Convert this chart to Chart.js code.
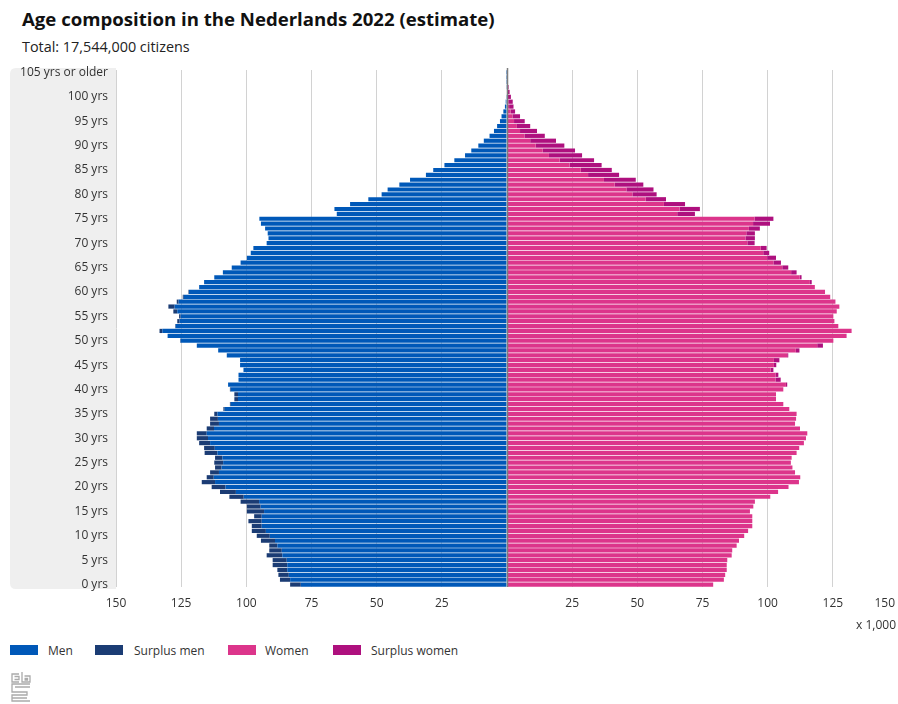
<!DOCTYPE html>
<html>
<head>
<meta charset="utf-8">
<script src="https://cdn.jsdelivr.net/npm/chart.js@4.4.1/dist/chart.umd.min.js"></script>
<style>
  body { margin: 0; width: 898px; height: 704px; background: #fff; font-family: "Open Sans", sans-serif; color: #222; position: relative; overflow: hidden; }
  h1 { position: absolute; left: 22px; top: 6px; margin: 0; font-size: 18.6px; font-weight: 700; color: #111; }
  .sub { position: absolute; left: 22px; top: 37px; font-size: 14.4px; }
  #wrap { position: absolute; left: 0; top: 61px; width: 898px; height: 560px; }
  .unit { position: absolute; right: 2px; top: 616px; font-size: 12px; color: #333; }
  .legend { position: absolute; left: 0; top: 642px; font-size: 12px; color: #333; }
  .legend i { position: absolute; top: 3px; width: 28px; height: 10px; }
  .legend span { position: absolute; top: 0; white-space: nowrap; }
  .logo { position: absolute; left: 10px; top: 671px; }
</style>
</head>
<body>
<h1>Age composition in the Nederlands 2022 (estimate)</h1>
<div class="sub">Total: 17,544,000 citizens</div>
<div id="wrap"><canvas id="chart"></canvas></div>
<div class="unit">x 1,000</div>
<div class="legend">
  <i style="left:10px;background:#0058b8"></i><span style="left:48px">Men</span>
  <i style="left:95px;background:#1b3c74"></i><span style="left:134px">Surplus men</span>
  <i style="left:228px;background:#dc358b"></i><span style="left:265px">Women</span>
  <i style="left:333px;background:#ae107e"></i><span style="left:371px">Surplus women</span>
</div>
<svg class="logo" width="22" height="32" viewBox="0 0 22 32" fill="none" stroke="#aaa" stroke-width="1.3">
  <path d="M9 3H2v8h7"/><path d="M4.5 5.5h4.5v3H4.5"/>
  <path d="M12 1v10h8V5h-5.5"/><path d="M14.5 7.5h3v1.5h-3"/>
  <path d="M20 13H2v8h15v3H2v6h18"/><path d="M5 16h15M2 27h15"/>
</svg>
<script>
// ages 0 .. 105 (last one = 105 or older), values x 1,000
const ages = Array.from({ length: 106 }, (_, i) => i);

const men = [
  83.2, 87.1, 87.7, 88.1, 89.9, 89.9, 92.2, 91.2, 91.2, 94.4,
  96.0, 97.9, 97.9, 99.2, 97.0, 99.8, 99.8, 102.2, 106.5, 110.1,
  113.3, 117.1, 115.2, 113.9, 112.0, 112.3, 112.0, 116.0, 116.2, 118.1,
  119.0, 119.0, 115.2, 113.9, 113.9, 112.3, 108.8, 106.3, 104.6, 104.6,
  106.3, 107.0, 103.0, 103.0, 101.1, 102.4, 102.4, 107.5, 110.8, 119.0,
  125.4, 130.2, 133.3, 127.3, 126.5, 125.8, 128.0, 129.9, 126.7, 124.4,
  122.2, 118.1, 116.2, 112.3, 109.0, 105.6, 102.2, 99.8, 98.3, 97.3,
  92.2, 91.5, 91.8, 92.8, 94.4, 95.0, 65.3, 66.2, 60.2, 53.2,
  48.1, 45.8, 41.3, 37.2, 31.1, 28.3, 24.0, 20.2, 16.1, 13.7,
  11.0, 8.9, 6.7, 5.0, 3.8, 2.7, 2.1, 1.4, 0.8, 0.5,
  0.3, 0.2, 0.1, 0.05, 0.02, 0.01
];

const women = [
  79.1, 83.2, 83.7, 84.3, 84.3, 84.5, 86.2, 86.4, 88.1, 89.0,
  91.0, 92.5, 94.1, 94.1, 94.1, 93.2, 94.5, 95.1, 101.0, 104.0,
  108.0, 112.0, 112.5, 110.5, 109.5, 108.9, 109.2, 111.1, 112.1, 113.9,
  114.7, 115.2, 112.4, 110.5, 110.9, 111.1, 108.3, 106.0, 103.2, 103.2,
  106.0, 107.5, 105.0, 104.1, 102.2, 103.3, 104.5, 107.9, 112.2, 121.2,
  125.2, 130.3, 132.2, 127.1, 125.6, 125.2, 126.5, 127.5, 126.0, 124.0,
  122.0, 118.1, 116.9, 113.0, 111.1, 107.9, 105.1, 103.2, 100.6, 99.6,
  95.0, 95.1, 95.1, 97.0, 100.9, 102.2, 72.1, 74.0, 68.3, 61.0,
  57.4, 56.2, 52.3, 49.4, 43.0, 40.2, 36.3, 33.4, 28.8, 26.1,
  22.0, 18.8, 14.5, 11.5, 8.9, 6.8, 5.0, 3.1, 2.5, 2.2,
  1.5, 1.0, 0.6, 0.35, 0.15, 0.1
];

const xTicks = [-150, -125, -100, -75, -50, -25, 25, 50, 75, 100, 125, 150];

// top of the chart is the oldest group
const order = ages.slice().reverse();
const labels = order.map(a => a === 105 ? '105 yrs or older' : a + ' yrs');
const common = order.map(a => Math.min(men[a], women[a]));
const surplusMen = order.map(a => Math.max(men[a] - women[a], 0));
const surplusWomen = order.map(a => Math.max(women[a] - men[a], 0));

const axisFont = { family: 'Open Sans', size: 12 };

const greyBox = {
  id: 'greyBox',
  beforeDraw(chart) {
    const { ctx, chartArea } = chart;
    const x0 = 10, x1 = chartArea.left, y0 = chartArea.top - 2, y1 = chartArea.bottom + 2, r = 6;
    ctx.save();
    ctx.fillStyle = '#efefef';
    ctx.beginPath();
    ctx.moveTo(x1, y0);
    ctx.lineTo(x0 + r, y0);
    ctx.quadraticCurveTo(x0, y0, x0, y0 + r);
    ctx.lineTo(x0, y1 - r);
    ctx.quadraticCurveTo(x0, y1, x0 + r, y1);
    ctx.lineTo(x1, y1);
    ctx.closePath();
    ctx.fill();
    ctx.restore();
  }
};

const centreLine = {
  id: 'centreLine',
  afterDatasetsDraw(chart) {
    const { ctx, chartArea, scales } = chart;
    const x = Math.round(scales.x.getPixelForValue(0)) + 0.5;
    ctx.save();
    ctx.strokeStyle = '#7d7d7d';
    ctx.lineWidth = 1.5;
    ctx.beginPath();
    ctx.moveTo(x, chartArea.top - 2);
    ctx.lineTo(x, chartArea.bottom);
    ctx.stroke();
    ctx.restore();
  }
};

// x labels: absolute values, last one kept inside the canvas
const xLabels = {
  id: 'xLabels',
  afterDraw(chart) {
    const { ctx, chartArea, scales } = chart;
    ctx.save();
    ctx.font = '12px "Open Sans"';
    ctx.fillStyle = '#333';
    ctx.textBaseline = 'middle';
    xTicks.forEach((v, i) => {
      let x = scales.x.getPixelForValue(v);
      ctx.textAlign = 'center';
      if (i === xTicks.length - 1) { ctx.textAlign = 'right'; x = chartArea.right - 3; }
      ctx.fillText(String(Math.abs(v)), x, chartArea.bottom + 17);
    });
    ctx.restore();
  }
};

new Chart(document.getElementById('chart'), {
  type: 'bar',
  data: {
    labels: labels,
    datasets: [
      { label: 'Men', data: common.map(v => -v), backgroundColor: '#0058b8' },
      { label: 'Surplus men', data: surplusMen.map(v => -v), backgroundColor: '#1b3c74' },
      { label: 'Women', data: common, backgroundColor: '#dc358b' },
      { label: 'Surplus women', data: surplusWomen, backgroundColor: '#ae107e' }
    ]
  },
  options: {
    indexAxis: 'y',
    responsive: true,
    maintainAspectRatio: false,
    animation: false,
    datasets: { bar: { barPercentage: 0.86, categoryPercentage: 1, borderWidth: 0 } },
    layout: { padding: { top: 9, left: 0, right: 0, bottom: 0 } },
    plugins: {
      legend: { display: false },
      tooltip: { enabled: false }
    },
    scales: {
      x: {
        type: 'linear',
        stacked: true,
        min: -150,
        max: 150,
        ticks: { stepSize: 25, display: false },
        grid: {
          color: c => c.tick && c.tick.value === 0 ? 'rgba(0,0,0,0)' : '#d2d2d2',
          drawTicks: false
        },
        border: { display: false },
        afterFit: s => { s.height = 34; s.paddingLeft = 0; s.paddingRight = 0; }
      },
      y: {
        stacked: true,
        grid: { display: false, drawTicks: false },
        border: { display: false },
        ticks: {
          autoSkip: false,
          padding: 8,
          color: '#333',
          font: axisFont,
          callback: function (value) {
            const age = order[value];
            return age % 5 === 0 ? this.getLabelForValue(value) : null;
          }
        },
        afterFit: s => { s.width = 116; s.paddingTop = 0; s.paddingBottom = 0; }
      }
    }
  },
  plugins: [greyBox, centreLine, xLabels]
});
</script>
</body>
</html>
